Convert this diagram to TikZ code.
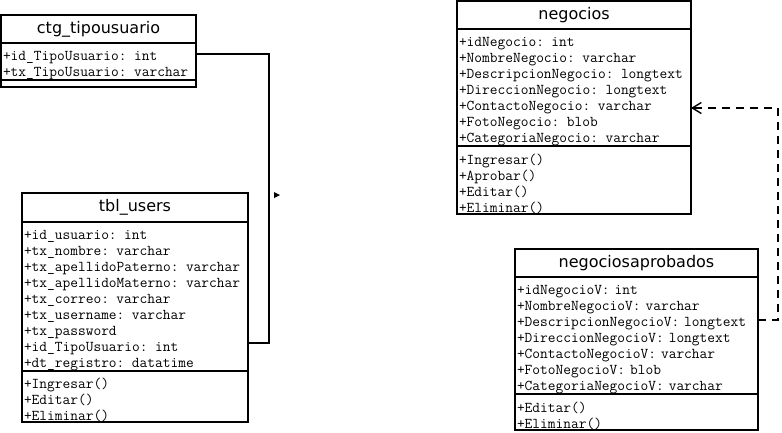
\documentclass[tikz,border=0pt]{standalone}
\usepackage{fontspec}
\newfontfamily\headfont{DejaVu Sans}
\usetikzlibrary{arrows.meta}

\begin{document}
\begin{tikzpicture}[x=1pt, y=-1pt,
    box/.style={draw, line width=1.4pt, rectangle, anchor=north west,
      outer sep=0pt, inner xsep=2pt, inner ysep=0pt},
    head/.style={box, font=\headfont\fontsize{16}{18}\selectfont},
    rows/.style={box, align=left, font=\ttfamily\fontsize{15}{16}\selectfont,
      execute at begin node={\rule{0pt}{17.5pt}}},
    assoc/.style={line width=1.4pt},
    depend/.style={line width=1.4pt, dash pattern=on 8pt off 6pt,
      -{Straight Barb[length=9pt, width=11pt, line width=1.4pt]}}]
  \useasboundingbox (0,0) rectangle (782,432);

  \node[head, minimum width=195pt, minimum height=28pt] (tipo-h) at (1,15) {ctg\_tipousuario};
  \node[rows, minimum width=195pt, minimum height=37pt, text width=191pt] (tipo-a) at (tipo-h.south west)
    {+id\_TipoUsuario: int\\+tx\_TipoUsuario: varchar};
  \node[box, minimum width=195pt, minimum height=7pt] (tipo-m) at (tipo-a.south west) {};

  \node[head, minimum width=226pt, minimum height=29pt] (users-h) at (22,193) {tbl\_users};
  \node[rows, minimum width=226pt, minimum height=148pt, text width=222pt] (users-a) at (users-h.south west)
    {+id\_usuario: int\\+tx\_nombre: varchar\\+tx\_apellidoPaterno: varchar\\
     +tx\_apellidoMaterno: varchar\\+tx\_correo: varchar\\+tx\_username: varchar\\
     +tx\_password\\+id\_TipoUsuario: int\\+dt\_registro: datatime};
  \node[rows, minimum width=226pt, minimum height=51pt, text width=222pt] (users-m) at (users-a.south west)
    {+Ingresar()\\+Editar()\\+Eliminar()};

  \node[head, minimum width=234pt, minimum height=28pt] (negocios-h) at (457,1) {negocios};
  \node[rows, minimum width=234pt, minimum height=116pt, text width=230pt] (negocios-a) at (negocios-h.south west)
    {+idNegocio: int\\+NombreNegocio: varchar\\+DescripcionNegocio: longtext\\
     +DireccionNegocio: longtext\\+ContactoNegocio: varchar\\+FotoNegocio: blob\\
     +CategoriaNegocio: varchar};
  \node[rows, minimum width=234pt, minimum height=68pt, text width=230pt] (negocios-m) at (negocios-a.south west)
    {+Ingresar()\\+Aprobar()\\+Editar()\\+Eliminar()};

  \node[head, minimum width=243pt, minimum height=28pt] (aprob-h) at (515,249) {negociosaprobados};
  \node[rows, minimum width=243pt, minimum height=117pt, text width=239pt] (aprob-a) at (aprob-h.south west)
    {+idNegocioV: int\\+NombreNegocioV: varchar\\+DescripcionNegocioV: longtext\\
     +DireccionNegocioV: longtext\\+ContactoNegocioV: varchar\\+FotoNegocioV: blob\\
     +CategoriaNegocioV: varchar};
  \node[rows, minimum width=243pt, minimum height=36pt, text width=239pt] (aprob-m) at (aprob-a.south west)
    {+Editar()\\+Eliminar()};

  \draw[assoc] ([yshift=-11pt]tipo-a.north east) -- ++(73,0) |- ([yshift=-121pt]users-a.north east);
  \draw[depend] ([yshift=-43pt]aprob-a.north east) -- ++(20,0) |- ([yshift=-79pt]negocios-a.north east);
  \fill (274,192) -- (280,195) -- (274,198) -- cycle;
\end{tikzpicture}
\end{document}
